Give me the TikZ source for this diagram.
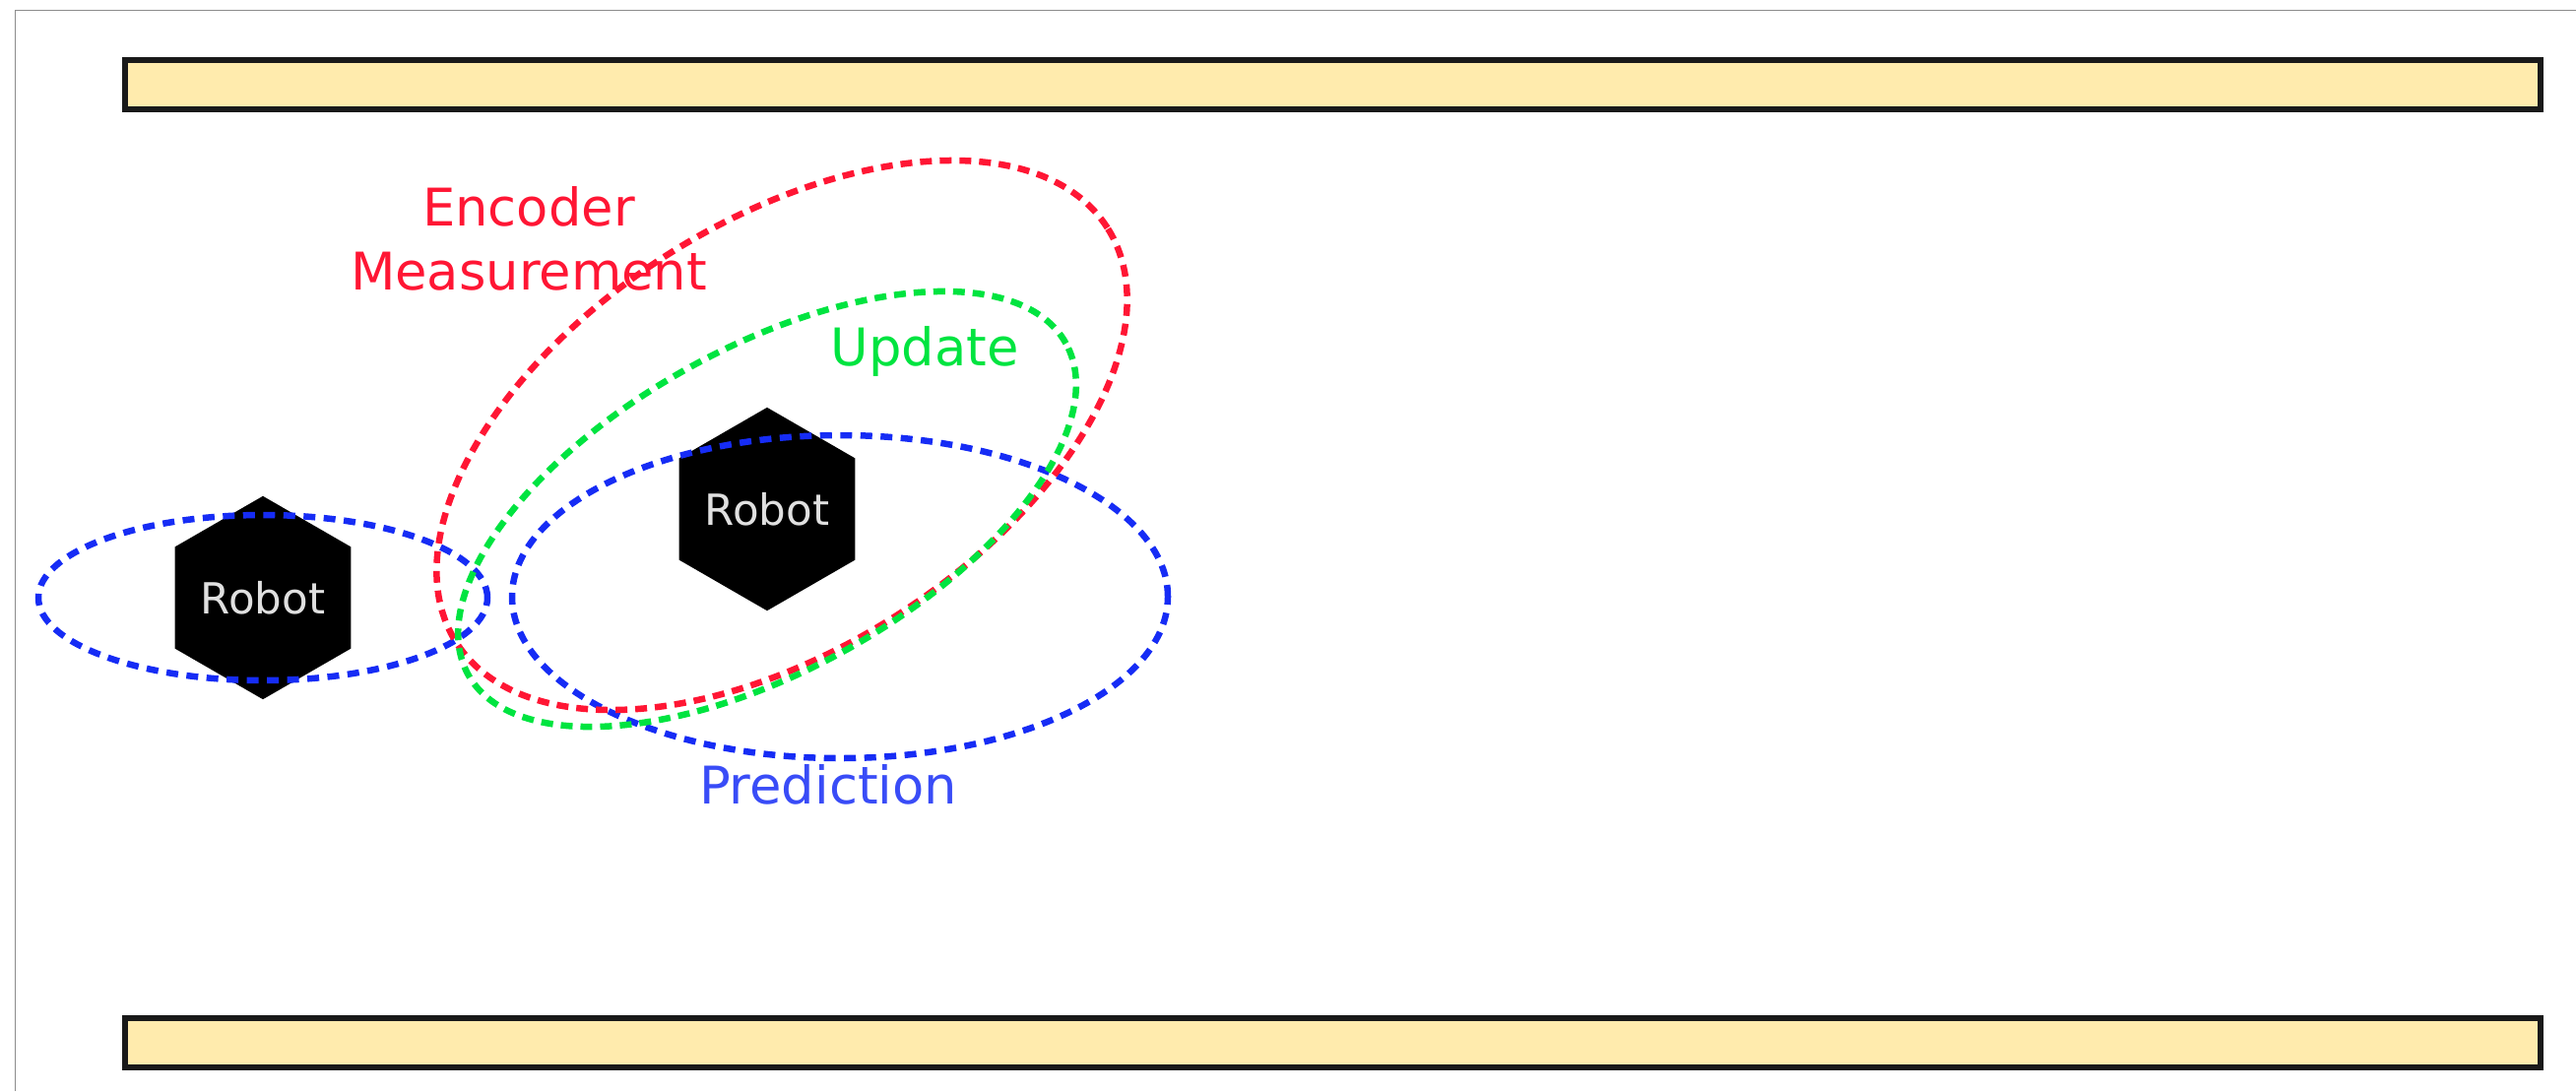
\documentclass[tikz,border=0pt]{standalone}
\usepackage{fontspec}
\setmainfont{DejaVu Sans}
\usepackage{tikz}
\usetikzlibrary{shapes,positioning,calc}
\definecolor{encred}{RGB}{255,22,52}
\definecolor{updgreen}{RGB}{0,228,64}
\definecolor{predblue}{RGB}{22,44,245}
\definecolor{wallfill}{RGB}{255,235,173}

\begin{document}
\begin{tikzpicture}[
    wall/.style={rectangle, draw=black!90, fill=wallfill, line width=0.06cm, minimum width=24.53cm, minimum height=0.5cm, inner sep=0pt},
    robot/.style={regular polygon, regular polygon sides=6, shape border rotate=30, fill=black, minimum size=1.97cm, inner sep=0pt, text=white!88!black, font=\fontsize{12.4}{14}\selectfont},
    belief/.style={ellipse, inner sep=0pt, line width=0.065cm},
    label/.style={font=\fontsize{15}{18.5}\selectfont, align=center},
]
    \useasboundingbox (0,0) rectangle (26.16,-11.08);
    % frame
    \draw[black!45, line width=0.015cm] (0.155,-11.08) -- (0.155,-0.105) -- (26.16,-0.105);

    % corridor walls
    \node[wall] (wall_top) at (13.535,-0.86) {};
    \node[wall] (wall_bot) at (13.535,-10.585) {};

    % robots
    \node[robot] (robot_prev) at (2.67,-6.07) {Robot};
    \node[robot] (robot_now) at (7.79,-5.17) {Robot};

    % beliefs
    \node[belief, draw=predblue, dash pattern=on 0.12cm off 0.085cm, minimum width=4.56cm, minimum height=1.68cm] (prev_belief) at (robot_prev) {};
    \node[belief, draw=predblue, dash pattern=on 0.12cm off 0.085cm, minimum width=6.66cm, minimum height=3.28cm] (prediction) at (8.53,-6.06) {};
    \node[belief, draw=encred, dash pattern=on 0.12cm off 0.08cm, minimum width=7.84cm, minimum height=4.34cm, rotate=32.5] (encoder) at (7.94,-4.42) {};
    \node[belief, draw=updgreen, dash pattern=on 0.12cm off 0.08cm, minimum width=6.94cm, minimum height=3.28cm, rotate=29] (update) at (robot_now) {};

    % labels
    \node[label, text=encred] (encoder_lbl) at (5.37,-2.42) {Encoder\\Measurement};
    \node[label, text=updgreen] (update_lbl) at (9.39,-3.57) {Update};
    \node[label, text=predblue!85!white] (prediction_lbl) at (8.41,-7.97) {Prediction};

\end{tikzpicture}
\end{document}
